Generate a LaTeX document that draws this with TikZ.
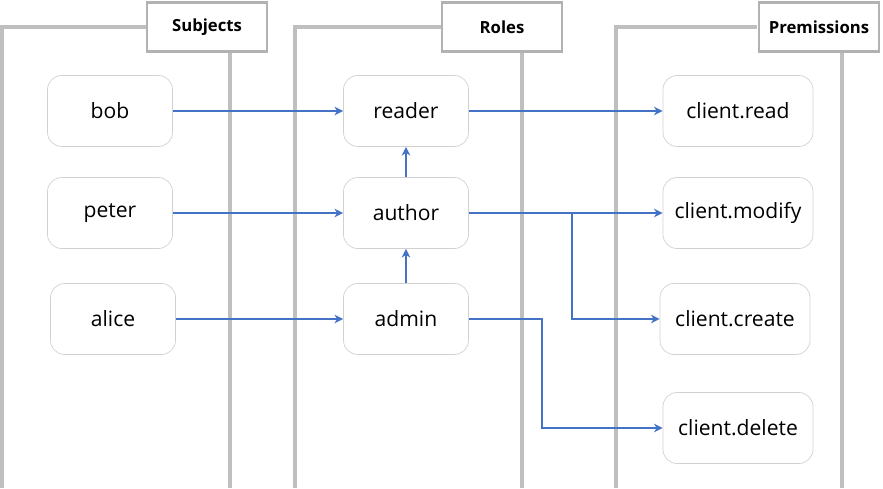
\documentclass[tikz,border=0pt]{standalone}
\usepackage{fontspec}
\setmainfont{Open Sans}
\usetikzlibrary{arrows.meta}
\definecolor{linkblue}{HTML}{4472C4}
\tikzset{
  panel/.style={draw=black!25, line width=2.2pt},
  header/.style={draw=black!30, line width=1.6pt, fill=white, minimum width=2.4cm, minimum height=0.98cm, font=\bfseries\fontsize{9.5}{11}\selectfont},
  item/.style={draw=black!18, rounded corners=8pt, minimum width=2.5cm, minimum height=1.42cm, font=\fontsize{12}{14}\selectfont},
  link/.style={draw=linkblue, line width=0.8pt, -{Stealth[length=5pt,width=5pt]}}
}
\begin{document}
\begin{tikzpicture}[x=0.02cm, y=-0.02cm]
      \useasboundingbox (0,0) rectangle (883,489);
      % panels
      \draw[panel] (2,488)--(2,27)--(147,27) (268,27)--(230,27)--(230,488);
      \draw[panel] (295,488)--(295,27)--(443,27) (562,27)--(522,27)--(522,488);
      \draw[panel] (616,488)--(616,27)--(757,27) (880,27)--(842,27)--(842,488);
      \node[header] (hsub) at (207,27) {Subjects};
      \node[header] (hrol) at (502,27) {Roles};
      \node[header] (hper) at (819,27) {Premissions};
      % subjects
      \node[item] (bob) at (110,111) {bob};
      \node[item] (peter) at (110,213) {peter};
      \node[item] (alice) at (113,319) {alice};
      % roles
      \node[item] (reader) at (406,111) {reader};
      \node[item] (author) at (406,213) {author};
      \node[item] (admin) at (406,319) {admin};
      % permissions
      \node[item, minimum width=3cm] (cread) at (738,111) {client.read};
      \node[item, minimum width=3cm] (cmodify) at (738,213) {client.modify};
      \node[item, minimum width=3cm] (ccreate) at (735,319) {client.create};
      \node[item, minimum width=3cm] (cdelete) at (738,428) {client.delete};
      % links
      \draw[link] (bob) -- (reader);
      \draw[link] (peter) -- (author);
      \draw[link] (alice) -- (admin);
      \draw[link] (author) -- (reader);
      \draw[link] (admin) -- (author);
      \draw[link] (reader) -- (cread);
      \draw[link] (author) -- (cmodify);
      \draw[link] (author.east) -| (572,319) -- (ccreate.west);
      \draw[link] (admin.east) -| (542,428) -- (cdelete.west);
\end{tikzpicture}
\end{document}
